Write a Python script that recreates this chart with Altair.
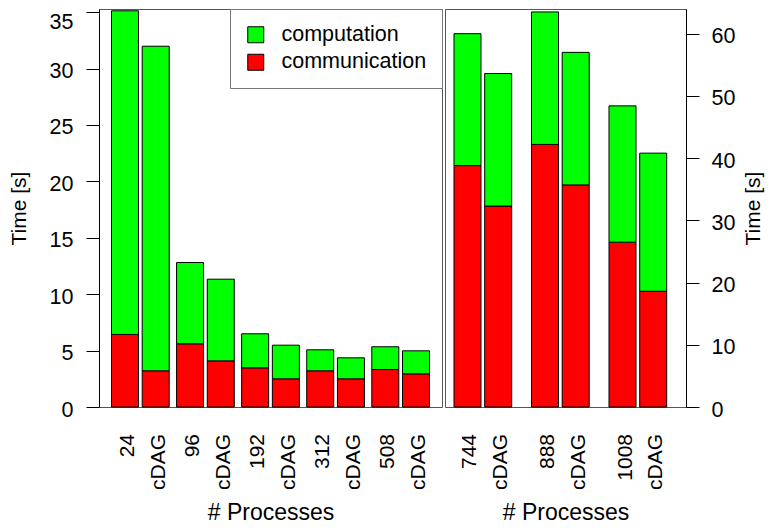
import altair as alt
import pandas as pd

FONT = "Liberation Sans"

left_groups = ["24", "96", "192", "312", "508"]
right_groups = ["744", "888", "1008"]
variants = ["base", "cDAG"]
series_names = ["computation", "communication"]
series_colors = ["#00ff00", "#ff0000"]

# one value per bar, in order: group/base, group/cDAG, ...
left_communication = [6.43, 3.21, 5.60, 4.09, 3.47, 2.50, 3.21, 2.50, 3.32, 2.94]
left_computation = [28.69, 28.77, 7.21, 7.24, 3.02, 2.98, 1.86, 1.86, 2.02, 2.04]
right_communication = [38.8, 32.3, 42.2, 35.7, 26.5, 18.6]
right_computation = [21.2, 21.3, 21.3, 21.3, 21.9, 22.2]

left_ticks = [0, 5, 10, 15, 20, 25, 30, 35]
right_ticks = [0, 10, 20, 30, 40, 50, 60]
left_ymax = 35.28
right_ymax = 63.97

H = 398


def build(groups, comm, comp):
    rows = []
    i = 0
    for g in groups:
        for v in variants:
            label = g if v == "base" else "cDAG"
            c, p = comm[i], comp[i]
            rows.append(dict(group=g, variant=v, label=label, series="communication", y0=0.0, y1=c))
            rows.append(dict(group=g, variant=v, label=label, series="computation", y0=c, y1=c + p))
            i += 1
    return pd.DataFrame(rows)


def panel(df, groups, width, g_inner, g_outer, o_inner, ymax, ticks, orient, show_legend):
    x = alt.X(
        "group:N", sort=groups,
        scale=alt.Scale(domain=groups, paddingInner=g_inner, paddingOuter=g_outer),
        axis=alt.Axis(title="# Processes", labels=False, ticks=False, domain=False,
                      titlePadding=94, titleFontSize=23, titleFontWeight="normal",
                      titleColor="black", titleFont=FONT),
    )
    xo = alt.XOffset("variant:N", sort=variants,
                     scale=alt.Scale(domain=variants, paddingInner=o_inner, paddingOuter=0))
    if orient == "left":
        loff = alt.condition("datum.value == 35", alt.value(10.5), alt.value(3))
        yaxis = alt.Axis(orient="left", values=ticks, title="Time [s]", grid=False,
                         tickSize=13, tickColor="black", domainColor="black",
                         labelPadding=13, labelFontSize=21.5, labelColor="black", labelFont=FONT,
                         labelOffset=loff, titleFontSize=21, titleFontWeight="normal",
                         titleColor="black", titleFont=FONT, titleAngle=270, titlePadding=19.5)
    else:
        yaxis = alt.Axis(orient="right", values=ticks, title="Time [s]", grid=False,
                         tickSize=13, tickColor="black", domainColor="black",
                         labelPadding=12, labelFontSize=21.5, labelColor="black", labelFont=FONT,
                         labelOffset=3, titleFontSize=21, titleFontWeight="normal",
                         titleColor="black", titleFont=FONT, titleAngle=270,
                         titleBaseline="top", titlePadding=8)
    if show_legend:
        legend = alt.Legend(title=None, orient="none", legendX=131, legendY=0, padding=15,
                            strokeColor="#777", fillColor="white", symbolType="square",
                            symbolSize=256, symbolStrokeColor="black", symbolStrokeWidth=1,
                            symbolOpacity=1, labelFontSize=21.5, labelOffset=15, rowPadding=4.5,
                            labelFont=FONT, labelColor="black")
    else:
        legend = None
    color = alt.Color("series:N", sort=series_names,
                      scale=alt.Scale(domain=series_names, range=series_colors), legend=legend)
    bars = alt.Chart(df).mark_bar(stroke="black", strokeWidth=1, opacity=1).encode(
        x=x, xOffset=xo,
        y=alt.Y("y1:Q", scale=alt.Scale(domain=[0, ymax], nice=False, zero=True), axis=yaxis),
        y2="y0:Q",
        color=color,
    )
    labels = alt.Chart(df).transform_filter(alt.datum.series == "communication").mark_text(
        angle=270, align="right", baseline="middle", fontSize=21, dy=3, font=FONT, color="black"
    ).encode(x=x, xOffset=xo, y=alt.value(H + 27), text="label:N")
    return alt.layer(bars, labels).properties(width=width, height=H)


left = panel(build(left_groups, left_communication, left_computation), left_groups,
             343, 0.1134, 0.192, 0.1205, left_ymax, left_ticks, "left", True)
right = panel(build(right_groups, right_communication, right_computation), right_groups,
              241, 0.1226, 0.116, 0.0845, right_ymax, right_ticks, "right", False)

chart = alt.hconcat(left, right, spacing=1).resolve_legend(color="independent").properties(
    padding={"left": 0, "top": 0, "right": 0, "bottom": 0}
).configure(background="white", font=FONT).configure_view(stroke="#555", strokeWidth=1)

chart.save("out.html", embed_options={"renderer": "svg", "actions": False})
